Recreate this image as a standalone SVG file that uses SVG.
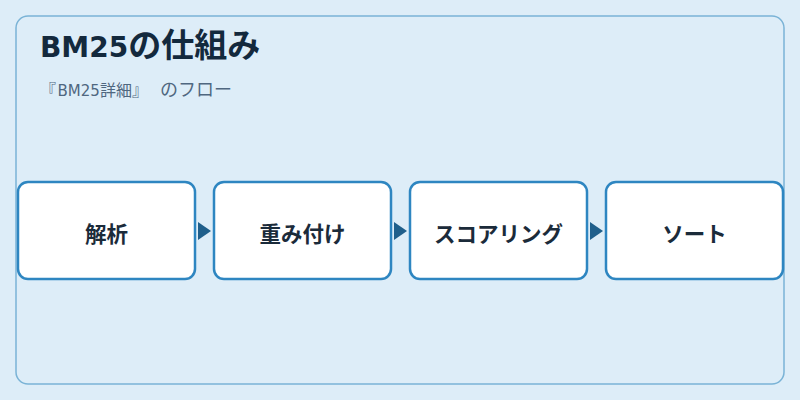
<svg xmlns="http://www.w3.org/2000/svg" width="800" height="400" viewBox="0 0 800 400">
<style>
.box{fill:#ffffff;stroke:#2E86C1;stroke-width:2.5}
.lbl{font-family:"Noto Sans CJK JP","DejaVu Sans",sans-serif;font-size:21.5px;font-weight:bold;fill:#1B2B3A;text-anchor:middle;dominant-baseline:central}
.arr{fill:#1F5F8B}
.cjk{font-family:"Noto Sans CJK JP",sans-serif}
</style>
<rect x="0" y="0" width="800" height="400" fill="#DDEDF8"/>
<rect x="16" y="16" width="768" height="368" rx="12" fill="#DDEDF8" stroke="#7AB3D6" stroke-width="1.5"/>
<text x="40" y="56.5" font-family="'DejaVu Sans','Noto Sans CJK JP',sans-serif" font-size="28" font-weight="bold" fill="#13293D">BM25<tspan class="cjk" font-size="33">の仕組み</tspan></text>
<text x="40" y="95.5" font-family="'DejaVu Sans','Noto Sans CJK JP',sans-serif" font-size="15" fill="#4F6780"><tspan class="cjk" font-size="16">『</tspan><tspan x="57.5">BM25</tspan><tspan class="cjk" x="99.9" font-size="16" dx="0">詳細』</tspan><tspan class="cjk" x="160" font-size="18">のフロー</tspan></text>
<g id="connectors">
<polygon class="arr" points="198,222 211,231 198,240"/>
<polygon class="arr" points="394,222 407,231 394,240"/>
<polygon class="arr" points="590,222 603,231 590,240"/>
</g>
<g id="node1"><rect class="box" x="18" y="182" width="177" height="97" rx="10"/><text class="lbl" x="106.5" y="232">解析</text></g>
<g id="node2"><rect class="box" x="214" y="182" width="177" height="97" rx="10"/><text class="lbl" x="302.5" y="232">重み付け</text></g>
<g id="node3"><rect class="box" x="410" y="182" width="177" height="97" rx="10"/><text class="lbl" x="498.5" y="232">スコアリング</text></g>
<g id="node4"><rect class="box" x="606" y="182" width="177" height="97" rx="10"/><text class="lbl" x="694.5" y="232">ソート</text></g>
</svg>
